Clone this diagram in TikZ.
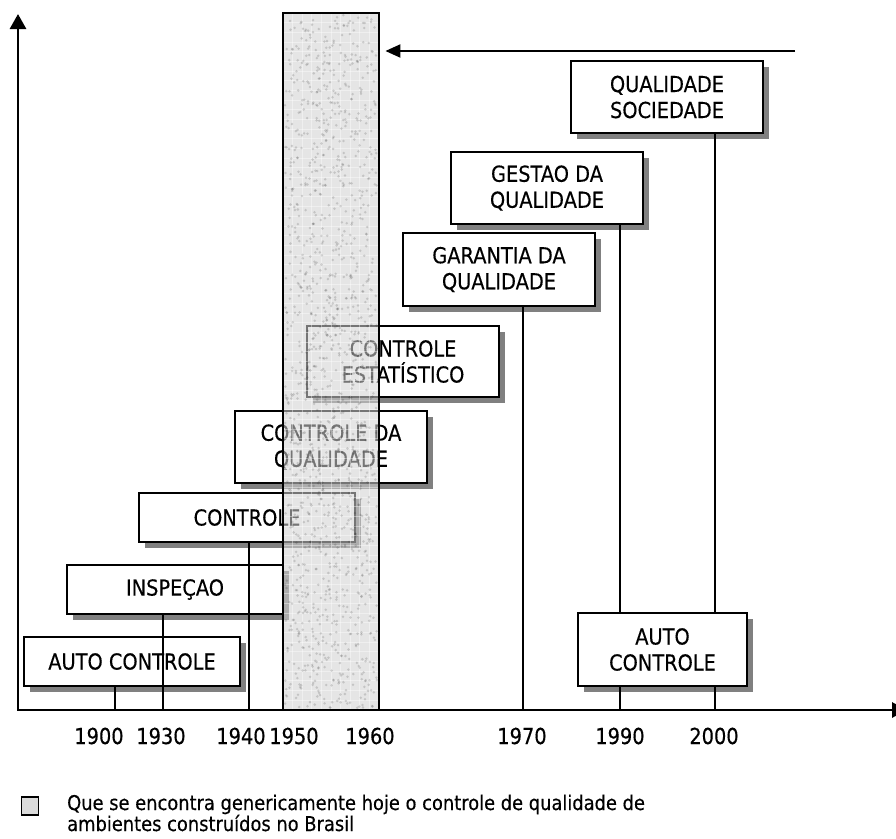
\documentclass[tikz,border=0pt]{standalone}
\usepackage{fontspec}
\setmainfont{DejaVu Sans}[FakeStretch=0.88,FakeBold=0.35]
\usetikzlibrary{arrows.meta,shadows}
\tikzset{
  tlbox/.style={draw=black, line width=2.3pt, fill=white, align=center, inner sep=0pt,
    font=\fontsize{22}{26}\selectfont,
    drop shadow={shadow xshift=6pt, shadow yshift=-6pt, fill=black!50, opacity=1}},
  conn/.style={line width=2.1pt},
  axisline/.style={line width=2.8pt},
  yearlbl/.style={font=\fontsize{22}{26}\selectfont, anchor=base, inner sep=0pt},
  legtext/.style={font=\fontsize{20.3}{22}\selectfont, anchor=base west, inner sep=0pt},
}
\begin{document}
\begin{tikzpicture}[x=1pt,y=-1pt]
\useasboundingbox (0,0) rectangle (896,838);
% boxes
\node[tlbox, minimum width=216pt, minimum height=49pt] (ac1) at (132,661.5) {AUTO CONTROLE};
\node[tlbox, minimum width=216pt, minimum height=49pt] (insp) at (175,589.5) {INSPEÇAO};
\node[tlbox, minimum width=216pt, minimum height=49pt] (ctrl) at (247,517.5) {CONTROLE};
\node[tlbox, minimum width=192pt, minimum height=72pt] (cq) at (331,447) {CONTROLE DA\\QUALIDADE};
\node[tlbox, minimum width=192pt, minimum height=71pt] (ce) at (403,361.5) {CONTROLE\\ESTATÍSTICO};
\node[tlbox, minimum width=192pt, minimum height=73pt] (gq) at (499,269.5) {GARANTIA DA\\QUALIDADE};
\node[tlbox, minimum width=192pt, minimum height=72pt] (gest) at (547,188) {GESTAO DA\\QUALIDADE};
\node[tlbox, minimum width=192pt, minimum height=72pt] (qs) at (667,97) {QUALIDADE\\SOCIEDADE};
\node[tlbox, minimum width=169pt, minimum height=73pt] (ac2) at (662.5,649.5) {AUTO\\CONTROLE};
% tick coordinates on the axis
\coordinate (t1900) at (115,710);
\coordinate (t1930) at (163,710);
\coordinate (t1940) at (249,710);
\coordinate (t1970) at (523,710);
\coordinate (t1990) at (620,710);
\coordinate (t2000) at (715,710);
% connectors
\draw[conn] (ac1.south -| t1900) -- (t1900);
\draw[conn] (insp.south -| t1930) -- (t1930);
\draw[conn] (ctrl.south -| t1940) -- (t1940);
\draw[conn] (gq.south -| t1970) -- (t1970);
\draw[conn] (gest.south -| t1990) -- (ac2.north -| t1990);
\draw[conn] (ac2.south -| t1990) -- (t1990);
\draw[conn] (qs.south -| t2000) -- (ac2.north -| t2000);
\draw[conn] (ac2.south -| t2000) -- (t2000);
% shaded band
\node[fill=gray!36, fill opacity=0.56, minimum width=96pt, minimum height=697pt, inner sep=0pt, anchor=north west] (band) at (283,13) {};
\foreach \gx in {1,...,9}
  \draw[white, opacity=0.4, line width=0.9pt] ({283+9.6*\gx},13) -- ({283+9.6*\gx},710);
\foreach \gy in {1,...,72}
  \draw[white, opacity=0.4, line width=0.9pt] (283,{13+9.68*\gy}) -- (379,{13+9.68*\gy});
\pgfmathsetseed{7}
\foreach \i in {1,...,1400}{
  \pgfmathsetmacro{\rx}{285+92*rnd}
  \pgfmathsetmacro{\ry}{15+693*rnd}
  \fill[black, opacity=0.14] (\rx,\ry) circle (1.4pt);
}
\draw[line width=2.1pt] (band.south west) -- (band.north west) -- (band.north east) -- (band.south east);
% axes
\coordinate (o) at (18,710);
\coordinate (ytip) at (18,14);
\coordinate (xtip) at (907,710);
\draw[axisline, {Triangle[width=16pt,length=15pt]}-{Triangle[width=15pt,length=15pt]}] (ytip) -- (o) -- (xtip);
% top arrow
\coordinate (tastart) at (795,51);
\draw[conn, -{Triangle[width=13pt,length=15pt]}, shorten >=6pt] (tastart) -- (tastart -| band.east);
% year labels
\node[yearlbl] (l1900) at (99,744) {1900};
\node[yearlbl] (l1930) at (161,744) {1930};
\node[yearlbl] (l1940) at (241,744) {1940};
\node[yearlbl] (l1950) at (294,744) {1950};
\node[yearlbl] (l1960) at (370,744) {1960};
\node[yearlbl] (l1970) at (522,744) {1970};
\node[yearlbl] (l1990) at (620,744) {1990};
\node[yearlbl] (l2000) at (714,744) {2000};
% legend
\node[draw, line width=1.6pt, fill=gray!28, minimum width=17pt, minimum height=18pt, inner sep=0pt] (leg) at (30,806) {};
\node[legtext] (lt1) at (67,810) {Que se encontra genericamente hoje o controle de qualidade de};
\node[legtext] (lt2) at (67,831) {ambientes construídos no Brasil};
\end{tikzpicture}
\end{document}
